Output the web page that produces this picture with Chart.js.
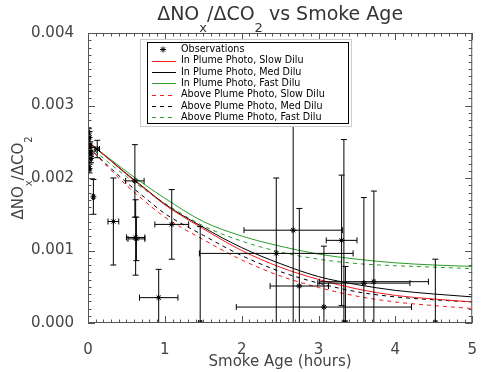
<!DOCTYPE html>
<html>
<head>
<meta charset="utf-8">
<script src="https://cdn.jsdelivr.net/npm/chart.js@4.4.1/dist/chart.umd.min.js"></script>
<style>
  html, body { margin: 0; padding: 0; background: #fff; }
  #wrap { width: 487px; height: 372px; }
</style>
</head>
<body>
<div id="wrap"><canvas id="noxChart" width="487" height="372"></canvas></div>
<script>
// observations (age in hours, ratio, half-width of error bars)
const obsAge = [0.01, 0.02, 0.00, 0.03, 0.01, 0.04, 0.02, 0.04, 0.01, 0.02,
  0.07, 0.12, 0.33, 0.61, 0.62, 0.63, 0.92, 1.09, 1.46, 2.45,
  2.67, 2.75, 3.07, 3.30, 3.33, 3.35, 3.59, 3.72, 4.52];
const obsRatio = [0.00262, 0.00256, 0.00249, 0.00244, 0.00240, 0.00236, 0.00231, 0.00227, 0.00219, 0.00213,
  0.00174, 0.00240, 0.00140, 0.00196, 0.00118, 0.00116, 0.00035, 0.00136, 0.00000, 0.00096,
  0.00128, 0.00051, 0.00022, 0.00114, 0.00000, 0.00000, 0.00055, 0.00057, 0.00000];
const obsAgeErr = [0.01, 0.01, 0.01, 0.01, 0.01, 0.01, 0.01, 0.01, 0.01, 0.01,
  0.01, 0.03, 0.07, 0.12, 0.12, 0.11, 0.25, 0.22, 0.02, 1.00,
  0.64, 0.38, 1.14, 0.20, 0.02, 0.02, 0.60, 0.71, 0.02];
const obsRatioErr = [0.00006, 0.00008, 0.00006, 0.00006, 0.00005, 0.00006, 0.00005, 0.00006, 0.00007, 0.00006,
  0.00024, 0.00012, 0.00060, 0.00050, 0.00052, 0.00030, 0.00039, 0.00048, 0.00133, 0.00104,
  0.00182, 0.00107, 0.00084, 0.00090, 0.00253, 0.00078, 0.00118, 0.00125, 0.00088];

// model curves
const modelAge = [0, 0.25, 0.5, 0.75, 1, 1.5, 2, 2.5, 3, 3.5, 4, 4.5, 5];
const inSlow = [0.00250, 0.00228, 0.00205, 0.00184, 0.00163, 0.00130, 0.00100, 0.00077, 0.00060, 0.00047, 0.00038, 0.00033, 0.00029];
const inMed = [0.00250, 0.00228, 0.00206, 0.00185, 0.00164, 0.00132, 0.00104, 0.00082, 0.00064, 0.00053, 0.00045, 0.00040, 0.00036];
const inFast = [0.00250, 0.00229, 0.00209, 0.00190, 0.00172, 0.00140, 0.00120, 0.00106, 0.00095, 0.00088, 0.00083, 0.00080, 0.00078];
const aboveSlow = [0.00243, 0.00216, 0.00190, 0.00167, 0.00146, 0.00115, 0.00087, 0.00065, 0.00049, 0.00037, 0.00029, 0.00024, 0.00020];
const aboveMed = [0.00243, 0.00218, 0.00194, 0.00172, 0.00151, 0.00121, 0.00093, 0.00071, 0.00055, 0.00043, 0.00036, 0.00032, 0.00029];
const aboveFast = [0.00245, 0.00223, 0.00202, 0.00183, 0.00165, 0.00134, 0.00113, 0.00098, 0.00088, 0.00082, 0.00079, 0.00077, 0.00075];

const seriesLabels = ["Observations",
  "In Plume Photo, Slow Dilu", "In Plume Photo, Med Dilu", "In Plume Photo, Fast Dilu",
  "Above Plume Photo, Slow Dilu", "Above Plume Photo, Med Dilu", "Above Plume Photo, Fast Dilu"];

const RED = "#ee1c1c";
const GREEN = "#2a9d2a";
const FONT = "'DejaVu Sans', sans-serif";
const lineColors = [null, RED, "#000", GREEN, RED, "#000", GREEN];
const lineDashed = [false, false, false, false, true, true, true];

const toPoints = (xs, ys) => xs.map((x, i) => ({ x: x, y: ys[i] }));

function curve(i, values) {
  return {
    label: seriesLabels[i],
    data: toPoints(modelAge, values),
    showLine: true,
    borderColor: lineColors[i],
    backgroundColor: lineColors[i],
    borderWidth: 1,
    borderDash: lineDashed[i] ? [4, 4] : [],
    pointRadius: 0,
    cubicInterpolationMode: "monotone",
  };
}

// draws text with subscript parts, parts = [[text, isSub], ...]
function richText(ctx, parts, x, y, size) {
  const sub = Math.round(size * 0.68);
  let total = 0;
  parts.forEach(([t, s]) => {
    ctx.font = (s ? sub : size) + "px " + FONT;
    total += ctx.measureText(t).width;
  });
  let cx = x - total / 2;
  ctx.textAlign = "left";
  ctx.textBaseline = "alphabetic";
  parts.forEach(([t, s]) => {
    ctx.font = (s ? sub : size) + "px " + FONT;
    ctx.fillText(t, cx, s ? y + size * 0.63 : y);
    cx += ctx.measureText(t).width;
  });
}

const errorBars = {
  id: "errorBars",
  afterDatasetsDraw(chart) {
    const { ctx, chartArea: a, scales: { x, y } } = chart;
    ctx.save();
    ctx.beginPath();
    ctx.rect(a.left, a.top, a.right - a.left, a.bottom - a.top);
    ctx.clip();
    ctx.strokeStyle = "#000";
    ctx.lineWidth = 1;
    obsAge.forEach((t, i) => {
      const px = x.getPixelForValue(t);
      const py = y.getPixelForValue(obsRatio[i]);
      const y0 = y.getPixelForValue(obsRatio[i] - obsRatioErr[i]);
      const y1 = y.getPixelForValue(obsRatio[i] + obsRatioErr[i]);
      const x0 = x.getPixelForValue(t - obsAgeErr[i]);
      const x1 = x.getPixelForValue(t + obsAgeErr[i]);
      ctx.beginPath();
      ctx.moveTo(px, y0); ctx.lineTo(px, y1);
      ctx.moveTo(px - 3, y0); ctx.lineTo(px + 3, y0);
      ctx.moveTo(px - 3, y1); ctx.lineTo(px + 3, y1);
      ctx.moveTo(x0, py); ctx.lineTo(x1, py);
      ctx.moveTo(x0, py - 3); ctx.lineTo(x0, py + 3);
      ctx.moveTo(x1, py - 3); ctx.lineTo(x1, py + 3);
      ctx.stroke();
    });
    ctx.restore();
  },
};

const frame = {
  id: "frame",
  afterDraw(chart) {
    const { ctx, chartArea: a, scales: { x, y } } = chart;
    ctx.save();
    ctx.strokeStyle = "#555";
    ctx.lineWidth = 1;
    ctx.strokeRect(a.left + 0.5, a.top + 0.5, a.right - a.left - 1, a.bottom - a.top - 1);
    ctx.beginPath();
    for (let i = 0; i <= 50; i++) {
      const px = Math.round(x.getPixelForValue(i / 10)) + 0.5;
      const len = i % 10 === 0 ? 7 : 3.5;
      ctx.moveTo(px, a.bottom); ctx.lineTo(px, a.bottom - len);
      ctx.moveTo(px, a.top); ctx.lineTo(px, a.top + len);
    }
    for (let i = 0; i <= 40; i++) {
      const py = Math.round(y.getPixelForValue(i * 0.0001)) + 0.5;
      const len = i % 10 === 0 ? 7 : 3.5;
      ctx.moveTo(a.left, py); ctx.lineTo(a.left + len, py);
      ctx.moveTo(a.right, py); ctx.lineTo(a.right - len, py);
    }
    ctx.stroke();
    ctx.restore();
  },
};

const labels = {
  id: "labels",
  afterDraw(chart) {
    const { ctx, chartArea: a } = chart;
    ctx.save();
    ctx.fillStyle = "#333";
    richText(ctx, [["\u0394NO", false], ["x", true], ["/\u0394CO", false], ["2", true], [" vs Smoke Age", false]],
      (a.left + a.right) / 2, 20, 19);
    ctx.translate(23, (a.top + a.bottom) / 2);
    ctx.rotate(-Math.PI / 2);
    ctx.fillStyle = "#444";
    richText(ctx, [["\u0394NO", false], ["x", true], ["/\u0394CO", false], ["2", true]], 0, 0, 15);
    ctx.restore();
  },
};

const legendBox = {
  id: "legendBox",
  afterDraw(chart) {
    const ctx = chart.ctx;
    ctx.save();
    ctx.fillStyle = "#fff";
    ctx.fillRect(140, 39, 212, 88);
    ctx.lineWidth = 1;
    ctx.strokeStyle = "#ccc";
    ctx.strokeRect(140.5, 39.5, 211, 87);
    ctx.strokeStyle = "#000";
    ctx.strokeRect(147.5, 42.5, 201, 81);
    ctx.textBaseline = "middle";
    ctx.textAlign = "left";
    seriesLabels.forEach((label, i) => {
      const ly = 49.5 + i * 11.3;
      ctx.beginPath();
      if (i === 0) {
        const r = 3;
        const d = r * 0.7;
        ctx.moveTo(163 - r, ly); ctx.lineTo(163 + r, ly);
        ctx.moveTo(163, ly - r); ctx.lineTo(163, ly + r);
        ctx.moveTo(163 - d, ly - d); ctx.lineTo(163 + d, ly + d);
        ctx.moveTo(163 - d, ly + d); ctx.lineTo(163 + d, ly - d);
        ctx.setLineDash([]);
        ctx.strokeStyle = "#000";
      } else {
        const yy = Math.round(ly) + 0.5;
        ctx.moveTo(152, yy);
        ctx.lineTo(176, yy);
        ctx.setLineDash(lineDashed[i] ? [4, 4] : []);
        ctx.strokeStyle = lineColors[i];
      }
      ctx.stroke();
      ctx.fillStyle = "#000";
      ctx.font = "9.6px " + FONT;
      ctx.fillText(label, 181, ly);
    });
    ctx.restore();
  },
};

const ctx = document.getElementById("noxChart").getContext("2d");
new Chart(ctx, {
  type: "scatter",
  data: {
    datasets: [
      {
        label: seriesLabels[0],
        data: toPoints(obsAge, obsRatio),
        pointStyle: "star",
        pointRadius: 3,
        borderColor: "#000",
        backgroundColor: "#000",
        borderWidth: 1,
        showLine: false,
      },
      curve(1, inSlow),
      curve(2, inMed),
      curve(3, inFast),
      curve(4, aboveSlow),
      curve(5, aboveMed),
      curve(6, aboveFast),
    ],
  },
  options: {
    responsive: false,
    animation: false,
    devicePixelRatio: 1,
    layout: { padding: { top: 33, right: 5, left: 0, bottom: 0 } },
    plugins: {
      legend: { display: false },
      title: { display: false },
      tooltip: { enabled: false },
    },
    scales: {
      x: {
        type: "linear",
        min: 0,
        max: 5,
        grid: { display: false },
        border: { display: false },
        ticks: {
          stepSize: 1,
          padding: 10,
          color: "#444",
          font: { family: FONT, size: 15 },
          maxRotation: 0,
        },
        title: {
          display: true,
          text: "Smoke Age (hours)",
          color: "#444",
          font: { family: FONT, size: 15 },
          padding: { top: 0, bottom: 1 },
        },
        afterFit: (s) => { s.height = 49; },
      },
      y: {
        type: "linear",
        min: 0,
        max: 0.004,
        grid: { display: false },
        border: { display: false },
        ticks: {
          stepSize: 0.001,
          padding: 6,
          color: "#444",
          font: { family: FONT, size: 15 },
          callback: (v) => v.toFixed(3),
        },
        afterFit: (s) => { s.width = 88; },
      },
    },
  },
  plugins: [errorBars, frame, labels, legendBox],
});
</script>
</body>
</html>
